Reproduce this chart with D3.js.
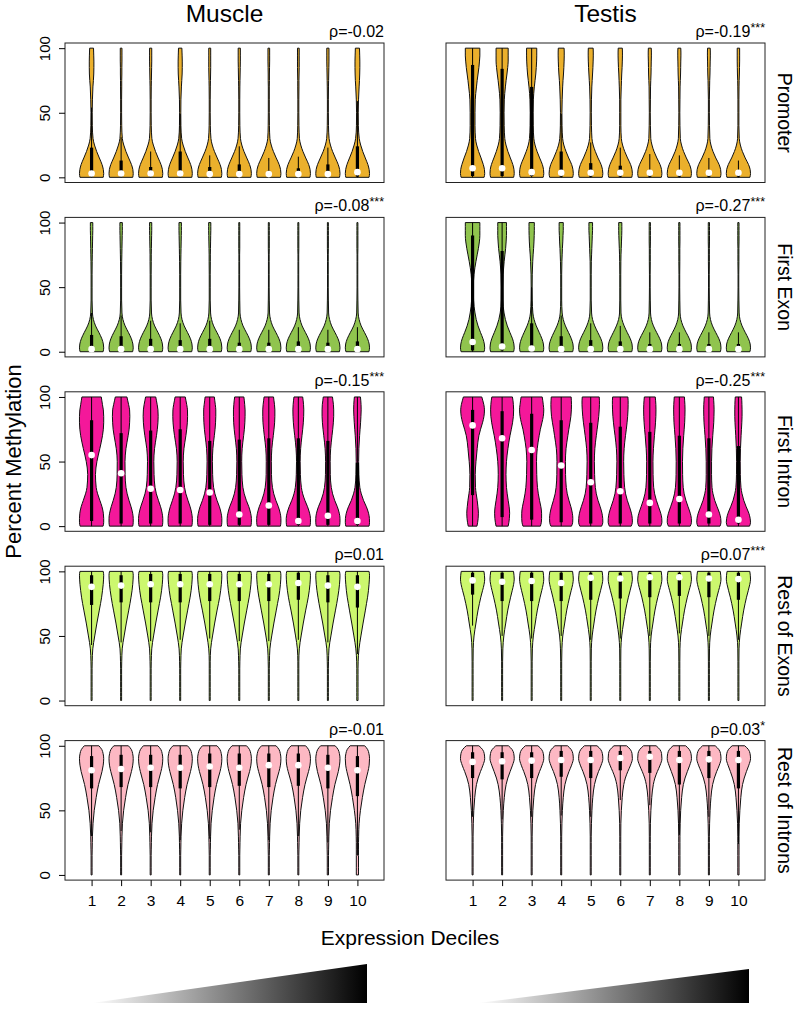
<!DOCTYPE html>
<html><head><meta charset="utf-8">
<script src="https://cdn.jsdelivr.net/npm/d3@7"></script>
<style>
body{margin:0;background:#fff}
svg{display:block}
text{font-family:"Liberation Sans",Arial,Helvetica,sans-serif;fill:#000}
</style>
</head><body>
<svg id="c" width="797" height="1009"></svg>
<script>
// ---------------- data ----------------
const deciles = [1,2,3,4,5,6,7,8,9,10];
const tissues = ["Muscle","Testis"];
const regions = ["Promoter","First Exon","First Intron","Rest of Exons","Rest of Introns"];
const regionColors = ["#EBB02C","#90C44E","#F4189A","#CCF76E","#FDB8C3"];
const rhoMuscle = ["-0.02","-0.08","-0.15","0.01","-0.01"];
const sigMuscle = ["","***","***","",""];
const rhoTestis = ["-0.19","-0.27","-0.25","0.07","0.03"];
const sigTestis = ["***","***","***","***","*"];
const yTicks = [0,50,100];
const xLabel = "Expression Deciles";
const yLabel = "Percent Methylation";
// methylation levels at which violin widths (relative density) are read
const levels = [0,3,6,10,15,20,25,30,40,50,60,70,75,80,85,90,94,97,100];

const violinMusclePromoter = [
[0.96,1,0.97,0.86,0.64,0.42,0.24,0.12,0.06,0.05,0.07,0.11,0.15,0.18,0.19,0.19,0.18,0.17,0.16],
[0.96,1,0.97,0.85,0.62,0.40,0.22,0.10,0.05,0.04,0.04,0.05,0.05,0.06,0.06,0.07,0.07,0.07,0.07],
[0.96,1,0.97,0.85,0.62,0.40,0.22,0.10,0.05,0.04,0.04,0.05,0.06,0.07,0.08,0.09,0.09,0.09,0.09],
[0.96,1,0.97,0.86,0.64,0.42,0.24,0.12,0.06,0.05,0.06,0.10,0.13,0.16,0.17,0.17,0.16,0.15,0.14],
[0.96,1,0.97,0.85,0.62,0.39,0.21,0.10,0.05,0.04,0.04,0.05,0.06,0.07,0.08,0.08,0.08,0.08,0.08],
[0.96,1,0.97,0.85,0.62,0.39,0.21,0.10,0.05,0.04,0.04,0.05,0.06,0.07,0.08,0.09,0.09,0.09,0.09],
[0.96,1,0.97,0.85,0.61,0.38,0.20,0.09,0.05,0.04,0.04,0.04,0.05,0.05,0.06,0.07,0.07,0.07,0.07],
[0.96,1,0.97,0.85,0.61,0.38,0.20,0.09,0.05,0.04,0.04,0.05,0.05,0.06,0.07,0.07,0.07,0.07,0.07],
[0.96,1,0.97,0.85,0.62,0.39,0.21,0.10,0.05,0.04,0.04,0.05,0.06,0.07,0.08,0.09,0.09,0.09,0.09],
[0.96,1,0.97,0.86,0.65,0.44,0.27,0.15,0.08,0.07,0.09,0.14,0.17,0.19,0.20,0.20,0.19,0.18,0.17]];
const violinMuscleFirstExon = [
[0.95,1,0.97,0.85,0.60,0.33,0.15,0.07,0.04,0.04,0.04,0.05,0.06,0.07,0.08,0.09,0.10,0.10,0.10],
[0.95,1,0.97,0.85,0.60,0.33,0.15,0.07,0.04,0.04,0.04,0.05,0.06,0.07,0.08,0.09,0.10,0.10,0.10],
[0.95,1,0.97,0.85,0.60,0.33,0.15,0.07,0.04,0.04,0.04,0.05,0.05,0.06,0.07,0.08,0.09,0.09,0.09],
[0.95,1,0.97,0.85,0.60,0.33,0.15,0.07,0.04,0.04,0.04,0.05,0.06,0.07,0.08,0.09,0.10,0.10,0.10],
[0.95,1,0.97,0.85,0.59,0.32,0.15,0.07,0.04,0.04,0.04,0.05,0.05,0.06,0.07,0.08,0.09,0.09,0.09],
[0.95,1,0.97,0.84,0.58,0.31,0.14,0.06,0.04,0.03,0.03,0.03,0.03,0.04,0.04,0.04,0.04,0.04,0.04],
[0.95,1,0.97,0.84,0.58,0.31,0.14,0.06,0.04,0.03,0.03,0.03,0.03,0.04,0.04,0.04,0.04,0.04,0.04],
[0.95,1,0.97,0.84,0.58,0.31,0.14,0.06,0.04,0.03,0.03,0.03,0.03,0.04,0.04,0.04,0.04,0.04,0.04],
[0.95,1,0.97,0.84,0.58,0.31,0.14,0.06,0.04,0.03,0.03,0.03,0.03,0.04,0.04,0.04,0.04,0.04,0.04],
[0.95,1,0.97,0.84,0.58,0.31,0.14,0.06,0.04,0.03,0.03,0.03,0.03,0.04,0.04,0.04,0.04,0.04,0.04]];
const violinMuscleFirstIntron = [
[0.95,1,1,0.97,0.86,0.68,0.50,0.38,0.32,0.44,0.68,0.90,0.97,1.00,1.00,0.97,0.90,0.85,0.80],
[0.96,1,1,0.95,0.82,0.65,0.50,0.40,0.33,0.32,0.40,0.58,0.66,0.70,0.72,0.70,0.62,0.55,0.48],
[0.96,1,1,0.95,0.82,0.64,0.47,0.36,0.28,0.26,0.32,0.48,0.55,0.60,0.62,0.60,0.54,0.48,0.42],
[0.96,1,1,0.95,0.82,0.64,0.47,0.36,0.27,0.25,0.31,0.47,0.54,0.59,0.61,0.60,0.54,0.48,0.42],
[0.96,1,1,0.94,0.80,0.60,0.43,0.32,0.24,0.22,0.26,0.38,0.44,0.48,0.50,0.50,0.46,0.42,0.38],
[0.96,1,1,0.94,0.79,0.58,0.41,0.30,0.22,0.20,0.24,0.36,0.42,0.46,0.48,0.48,0.45,0.42,0.38],
[0.96,1,1,0.94,0.79,0.58,0.41,0.30,0.22,0.21,0.25,0.37,0.43,0.48,0.50,0.50,0.47,0.43,0.39],
[0.96,1,1,0.93,0.76,0.54,0.36,0.25,0.17,0.15,0.19,0.30,0.36,0.41,0.44,0.45,0.43,0.40,0.36],
[0.96,1,1,0.94,0.78,0.56,0.39,0.28,0.20,0.19,0.23,0.34,0.40,0.45,0.48,0.48,0.46,0.42,0.38],
[0.96,1,0.99,0.92,0.74,0.50,0.32,0.20,0.12,0.10,0.12,0.18,0.22,0.26,0.29,0.31,0.30,0.28,0.25]];
const violinMuscleRestExons = [
[0.04,0.04,0.04,0.04,0.04,0.04,0.04,0.05,0.10,0.26,0.44,0.64,0.74,0.83,0.90,0.96,0.99,1,0.96],
[0.04,0.04,0.04,0.04,0.04,0.04,0.04,0.05,0.09,0.25,0.43,0.63,0.73,0.82,0.90,0.96,0.99,1,0.96],
[0.04,0.04,0.04,0.04,0.04,0.04,0.04,0.05,0.09,0.24,0.42,0.62,0.72,0.82,0.90,0.96,0.99,1,0.96],
[0.04,0.04,0.04,0.04,0.04,0.04,0.04,0.05,0.09,0.24,0.42,0.62,0.72,0.82,0.90,0.96,0.99,1,0.96],
[0.04,0.04,0.04,0.04,0.04,0.04,0.04,0.04,0.08,0.23,0.41,0.61,0.72,0.82,0.90,0.96,0.99,1,0.96],
[0.04,0.04,0.04,0.04,0.04,0.04,0.04,0.05,0.09,0.24,0.42,0.62,0.72,0.82,0.90,0.96,0.99,1,0.96],
[0.04,0.04,0.04,0.04,0.04,0.04,0.04,0.05,0.09,0.24,0.42,0.62,0.72,0.82,0.90,0.96,0.99,1,0.96],
[0.04,0.04,0.04,0.04,0.04,0.04,0.04,0.04,0.08,0.23,0.41,0.61,0.72,0.82,0.90,0.96,0.99,1,0.96],
[0.04,0.04,0.04,0.04,0.04,0.04,0.04,0.05,0.09,0.25,0.43,0.63,0.73,0.82,0.90,0.96,0.99,1,0.96],
[0.05,0.05,0.05,0.05,0.05,0.05,0.05,0.06,0.13,0.29,0.47,0.66,0.75,0.84,0.91,0.96,0.99,1,0.96]];
const violinMuscleRestIntrons = [
[0.04,0.04,0.04,0.04,0.04,0.05,0.06,0.07,0.12,0.22,0.38,0.58,0.72,0.86,0.96,1,0.95,0.85,0.60],
[0.04,0.04,0.04,0.04,0.04,0.05,0.06,0.07,0.11,0.21,0.37,0.57,0.71,0.85,0.96,1,0.95,0.85,0.60],
[0.04,0.04,0.04,0.04,0.04,0.05,0.06,0.07,0.11,0.21,0.37,0.57,0.71,0.85,0.96,1,0.95,0.85,0.60],
[0.04,0.04,0.04,0.04,0.04,0.05,0.06,0.07,0.12,0.22,0.37,0.57,0.71,0.85,0.96,1,0.95,0.85,0.60],
[0.04,0.04,0.04,0.04,0.04,0.05,0.06,0.07,0.11,0.21,0.36,0.56,0.70,0.85,0.96,1,0.95,0.85,0.60],
[0.04,0.04,0.04,0.04,0.04,0.05,0.06,0.07,0.11,0.21,0.36,0.56,0.70,0.85,0.96,1,0.95,0.85,0.60],
[0.04,0.04,0.04,0.04,0.04,0.05,0.06,0.07,0.11,0.20,0.35,0.55,0.69,0.84,0.96,1,0.95,0.85,0.60],
[0.04,0.04,0.04,0.04,0.04,0.05,0.06,0.07,0.11,0.20,0.35,0.55,0.69,0.84,0.96,1,0.95,0.85,0.60],
[0.05,0.05,0.05,0.05,0.05,0.06,0.07,0.08,0.12,0.22,0.38,0.58,0.72,0.86,0.96,1,0.95,0.85,0.60],
[0.09,0.09,0.09,0.09,0.09,0.09,0.09,0.10,0.14,0.25,0.41,0.61,0.74,0.87,0.97,1,0.95,0.85,0.60]];

const violinTestisPromoter = [
[0.95,1,0.98,0.88,0.70,0.50,0.34,0.24,0.20,0.20,0.22,0.32,0.38,0.45,0.52,0.57,0.60,0.60,0.60],
[0.95,1,0.98,0.88,0.68,0.48,0.32,0.22,0.17,0.16,0.18,0.27,0.33,0.40,0.46,0.50,0.50,0.50,0.50],
[0.95,1,0.98,0.88,0.66,0.45,0.28,0.18,0.13,0.12,0.14,0.22,0.28,0.34,0.38,0.41,0.42,0.42,0.42],
[0.95,1,0.97,0.86,0.62,0.40,0.22,0.12,0.07,0.06,0.08,0.12,0.15,0.19,0.22,0.24,0.25,0.25,0.24],
[0.95,1,0.97,0.85,0.60,0.38,0.20,0.10,0.06,0.05,0.06,0.09,0.12,0.15,0.18,0.20,0.21,0.21,0.20],
[0.95,1,0.97,0.85,0.60,0.37,0.19,0.09,0.05,0.05,0.05,0.08,0.10,0.12,0.15,0.17,0.18,0.18,0.17],
[0.95,1,0.97,0.84,0.58,0.35,0.18,0.08,0.05,0.04,0.05,0.06,0.08,0.10,0.11,0.12,0.13,0.13,0.12],
[0.95,1,0.97,0.84,0.58,0.35,0.18,0.08,0.05,0.04,0.05,0.06,0.08,0.10,0.11,0.12,0.13,0.13,0.12],
[0.95,1,0.97,0.84,0.57,0.34,0.17,0.08,0.05,0.04,0.04,0.06,0.07,0.09,0.10,0.11,0.12,0.12,0.11],
[0.95,1,0.97,0.83,0.56,0.33,0.16,0.07,0.04,0.04,0.04,0.05,0.06,0.08,0.09,0.10,0.10,0.10,0.10]];
const violinTestisFirstExon = [
[0.95,1,0.97,0.86,0.65,0.45,0.30,0.20,0.08,0.06,0.12,0.28,0.38,0.48,0.56,0.60,0.60,0.60,0.60],
[0.95,1,0.97,0.86,0.64,0.43,0.27,0.16,0.06,0.05,0.08,0.17,0.23,0.29,0.33,0.36,0.36,0.36,0.36],
[0.95,1,0.97,0.85,0.62,0.38,0.20,0.10,0.05,0.04,0.05,0.09,0.12,0.16,0.19,0.21,0.22,0.22,0.22],
[0.95,1,0.97,0.84,0.60,0.35,0.17,0.08,0.04,0.04,0.04,0.06,0.08,0.10,0.13,0.15,0.17,0.17,0.17],
[0.95,1,0.97,0.84,0.58,0.33,0.15,0.07,0.04,0.04,0.04,0.05,0.07,0.09,0.11,0.13,0.15,0.15,0.15],
[0.95,1,0.97,0.83,0.57,0.32,0.14,0.06,0.04,0.04,0.04,0.05,0.06,0.08,0.10,0.12,0.13,0.13,0.13],
[0.95,1,0.97,0.83,0.56,0.30,0.13,0.06,0.04,0.03,0.03,0.04,0.04,0.04,0.05,0.05,0.05,0.05,0.05],
[0.95,1,0.97,0.83,0.56,0.30,0.13,0.06,0.04,0.03,0.03,0.04,0.04,0.04,0.05,0.05,0.05,0.05,0.05],
[0.95,1,0.97,0.83,0.56,0.30,0.13,0.06,0.04,0.03,0.03,0.04,0.04,0.04,0.05,0.05,0.05,0.05,0.05],
[0.95,1,0.97,0.83,0.56,0.30,0.13,0.06,0.04,0.03,0.03,0.04,0.04,0.04,0.05,0.05,0.05,0.05,0.05]];
const violinTestisFirstIntron = [
[0.36,0.42,0.46,0.48,0.44,0.38,0.30,0.24,0.22,0.28,0.38,0.52,0.66,0.82,0.94,0.98,0.93,0.85,0.76],
[0.50,0.56,0.60,0.62,0.58,0.50,0.42,0.36,0.32,0.36,0.48,0.65,0.76,0.86,0.93,0.95,0.93,0.90,0.85],
[0.72,0.80,0.82,0.82,0.76,0.65,0.55,0.48,0.42,0.40,0.46,0.62,0.72,0.85,0.96,1.00,0.96,0.92,0.87],
[0.85,0.95,0.96,0.92,0.80,0.64,0.50,0.42,0.36,0.35,0.40,0.55,0.63,0.72,0.80,0.84,0.85,0.84,0.82],
[0.90,1.00,0.99,0.93,0.78,0.60,0.46,0.38,0.32,0.30,0.34,0.46,0.53,0.60,0.66,0.70,0.72,0.72,0.70],
[0.90,1.00,0.99,0.92,0.76,0.58,0.44,0.36,0.30,0.28,0.32,0.43,0.50,0.56,0.61,0.64,0.65,0.65,0.63],
[0.90,1.00,0.99,0.90,0.72,0.54,0.40,0.32,0.27,0.26,0.30,0.38,0.43,0.47,0.50,0.51,0.50,0.48,0.45],
[0.90,1.00,0.99,0.90,0.72,0.54,0.40,0.32,0.27,0.26,0.29,0.36,0.40,0.44,0.46,0.47,0.46,0.44,0.42],
[0.92,1.00,0.98,0.88,0.68,0.48,0.34,0.26,0.22,0.22,0.25,0.32,0.36,0.40,0.42,0.43,0.42,0.40,0.38],
[0.92,1.00,0.97,0.86,0.64,0.44,0.30,0.21,0.16,0.15,0.17,0.22,0.25,0.28,0.30,0.30,0.29,0.28,0.26]];
const violinTestisRestExons = [
[0.04,0.04,0.04,0.04,0.04,0.04,0.04,0.04,0.05,0.12,0.28,0.45,0.56,0.68,0.82,0.95,1,0.98,0.94],
[0.04,0.04,0.04,0.04,0.04,0.04,0.04,0.04,0.06,0.14,0.30,0.47,0.58,0.70,0.83,0.95,1,0.98,0.94],
[0.04,0.04,0.04,0.04,0.04,0.04,0.04,0.04,0.06,0.14,0.30,0.47,0.58,0.70,0.83,0.95,1,0.98,0.94],
[0.04,0.04,0.04,0.04,0.04,0.04,0.04,0.04,0.06,0.13,0.29,0.46,0.57,0.69,0.82,0.95,1,0.98,0.94],
[0.04,0.04,0.04,0.04,0.04,0.04,0.04,0.04,0.05,0.12,0.27,0.44,0.55,0.67,0.81,0.94,1,0.98,0.94],
[0.04,0.04,0.04,0.04,0.04,0.04,0.04,0.04,0.05,0.12,0.27,0.44,0.55,0.67,0.81,0.94,1,0.98,0.94],
[0.04,0.04,0.04,0.04,0.04,0.04,0.04,0.04,0.05,0.11,0.26,0.43,0.54,0.66,0.80,0.94,1,0.98,0.94],
[0.04,0.04,0.04,0.04,0.04,0.04,0.04,0.04,0.05,0.11,0.26,0.43,0.54,0.66,0.80,0.94,1,0.98,0.94],
[0.04,0.04,0.04,0.04,0.04,0.04,0.04,0.04,0.05,0.11,0.26,0.43,0.54,0.66,0.80,0.94,1,0.98,0.94],
[0.04,0.04,0.04,0.04,0.04,0.04,0.04,0.04,0.05,0.12,0.27,0.44,0.55,0.67,0.81,0.94,1,0.98,0.94]];
const violinTestisRestIntrons = [
[0.04,0.04,0.04,0.04,0.04,0.04,0.04,0.04,0.06,0.10,0.18,0.32,0.46,0.65,0.86,1,0.96,0.83,0.52],
[0.04,0.04,0.04,0.04,0.04,0.04,0.04,0.04,0.06,0.10,0.18,0.33,0.47,0.66,0.86,1,0.96,0.83,0.52],
[0.04,0.04,0.04,0.04,0.04,0.04,0.04,0.04,0.06,0.10,0.18,0.32,0.46,0.65,0.86,1,0.96,0.83,0.52],
[0.04,0.04,0.04,0.04,0.04,0.04,0.04,0.04,0.06,0.10,0.17,0.31,0.45,0.64,0.86,1,0.96,0.83,0.52],
[0.04,0.04,0.04,0.04,0.04,0.04,0.04,0.04,0.06,0.10,0.17,0.31,0.45,0.64,0.86,1,0.96,0.83,0.52],
[0.04,0.04,0.04,0.04,0.04,0.04,0.04,0.04,0.05,0.09,0.16,0.29,0.42,0.62,0.85,1,0.97,0.84,0.52],
[0.04,0.04,0.04,0.04,0.04,0.04,0.04,0.04,0.05,0.09,0.16,0.29,0.42,0.62,0.85,1,0.97,0.84,0.52],
[0.05,0.05,0.05,0.05,0.05,0.05,0.05,0.05,0.07,0.11,0.19,0.33,0.47,0.66,0.86,1,0.96,0.83,0.52],
[0.04,0.04,0.04,0.04,0.04,0.04,0.04,0.04,0.06,0.10,0.17,0.31,0.45,0.64,0.86,1,0.96,0.83,0.52],
[0.05,0.05,0.05,0.05,0.05,0.05,0.05,0.05,0.07,0.12,0.20,0.34,0.48,0.66,0.86,1,0.96,0.83,0.52]];

// box-plot statistics, rows = regions, columns = deciles
const medMuscle = [
[3,3,3,3,2.5,2.5,2.5,2.5,2.5,4],
[2,2,2,2,2,2,2,2,2,2],
[55,41,29,28,26,9,16,4,8,4],
[88,89,90,90,90,90,90,91,89,88],
[81,82,83,83,84,83,85,85,83,81]];
const q1Muscle = [
[0.5,0.5,0.5,0.5,0.5,0.5,0.5,0.5,0.5,0.5],
[0.5,0.5,0.5,0.5,0.5,0.5,0.5,0.5,0.5,0.5],
[4,2,2,2,1,1,1,1,1,1],
[74,76,76,76,77,77,77,78,76,72],
[67,68,68,67,68,69,68,69,67,61]];
const q3Muscle = [
[23,13,8,20,8,10,5,7,10,24],
[13,12,10,9,10,7,7,8,7,8],
[82,72,74,75,66,67,68,68,66,49],
[97,97,98,98,98,98,98,99,97,97],
[92,93,93,93,94,94,94,94,93,92]];
const loMuscle = [
[0,0,0,0,0,0,0,0,0,0],
[0,0,0,0,0,0,0,0,0,0],
[0,0,0,0,0,0,0,0,0,0],
[43,45,46,47,48,46,46,47,45,36],
[30,34,33,27,28,35,27,30,25,15]];
const hiMuscle = [
[54,31,20,49,17,24,15,16,23,59],
[30,28,24,22,24,17,17,19,17,19],
[100,100,100,100,100,100,100,100,100,100],
[100,100,100,100,100,100,100,100,100,100],
[100,100,100,100,100,100,100,100,100,100]];

const medTestis = [
[7,7,4,3.5,3.5,3.5,3.5,3.5,3.5,3.5],
[7.5,4,2.5,2,2,2,2,2,2,2],
[78,68,59,47,34,27,18,21,9,5],
[93,92,92.5,91,95,94.5,95.5,95.5,94.5,94],
[87.5,88,88.5,89,89,90.5,91.5,89,89.5,89]];
const q1Testis = [
[1,1,1,0.5,0.5,0.5,0.5,0.5,0.5,0.5],
[1,1,0.5,0.5,0.5,0.5,0.5,0.5,0.5,0.5],
[24,7,5,3,2,2,2,2,2,2],
[82,77,77,77,78,79,80,81,80,78],
[75,74,75,76,75,81,79,70,75,67]];
const q3Testis = [
[87,84,70,20,11,9,5,4,4,3],
[90,78,22,12,9,8,6,6,6,6],
[90,89,87,82,80,77,73,70,68,62],
[99,99,99,99,99,99,99,99,99,99],
[95,95,95,96,96,96,96,96,96,96]];
const loTestis = [
[0,0,0,0,0,0,0,0,0,0],
[0,0,0,0,0,0,0,0,0,0],
[0,0,0,0,0,0,0,0,0,0],
[58,50,48,50,47,48,50,52,50,47],
[45,43,45,46,45,58,54,31,45,24]];
const hiTestis = [
[100,100,100,49,27,23,18,17,15,13],
[100,100,50,28,22,20,15,15,15,15],
[100,100,100,100,100,100,100,100,100,100],
[100,100,100,100,100,100,100,100,100,100],
[100,100,100,100,100,100,100,100,100,100]];

// ---------------- drawing ----------------
const profilesMuscle = [violinMusclePromoter, violinMuscleFirstExon, violinMuscleFirstIntron, violinMuscleRestExons, violinMuscleRestIntrons];
const profilesTestis = [violinTestisPromoter, violinTestisFirstExon, violinTestisFirstIntron, violinTestisRestExons, violinTestisRestIntrons];
const tissueSets = [
  {name:tissues[0], prof:profilesMuscle, med:medMuscle, q1:q1Muscle, q3:q3Muscle, lo:loMuscle, hi:hiMuscle, rho:rhoMuscle, sig:sigMuscle},
  {name:tissues[1], prof:profilesTestis, med:medTestis, q1:q1Testis, q3:q3Testis, lo:loTestis, hi:hiTestis, rho:rhoTestis, sig:sigTestis}
];

const svg = d3.select("#c");
const defs = svg.append("defs");
const PANEL_H = 139.5, ROW_STEP = 174.4, TOP0 = 43;
const cols = [{x0:65, x1:384}, {x0:446, x1:765}];

tissueSets.forEach((t, ci) => {
  const c = cols[ci];
  const x = d3.scaleLinear().domain([0.1, 10.9]).range([c.x0, c.x1]);
  const hw = 0.41 * (x(2) - x(1));

  svg.append("text").attr("x", (c.x0 + c.x1) / 2).attr("y", 22)
    .attr("text-anchor", "middle").attr("font-size", 24.5).text(t.name);

  regions.forEach((reg, ri) => {
    const top = TOP0 + ri * ROW_STEP, bot = top + PANEL_H;
    const y = d3.scaleLinear().domain([-4, 104]).range([bot, top]);
    const g = svg.append("g");

    deciles.forEach((d, di) => {
      const cx = x(d);
      const pts = levels.map((v, k) => ({v: v, w: t.prof[ri][di][k]}));
      const area = d3.area().curve(d3.curveMonotoneY)
        .y(p => y(p.v)).x0(p => cx - p.w * hw).x1(p => cx + p.w * hw);
      g.append("path").attr("d", area(pts))
        .attr("fill", regionColors[ri]).attr("stroke", "#111").attr("stroke-width", 1);
      g.append("line").attr("x1", cx).attr("x2", cx)
        .attr("y1", y(t.lo[ri][di])).attr("y2", y(t.hi[ri][di]))
        .attr("stroke", "#000").attr("stroke-width", 1);
      g.append("rect").attr("x", cx - 1.6).attr("width", 3.2)
        .attr("y", y(t.q3[ri][di])).attr("height", y(t.q1[ri][di]) - y(t.q3[ri][di]))
        .attr("fill", "#000");
      g.append("circle").attr("cx", cx).attr("cy", y(t.med[ri][di])).attr("r", 3.3).attr("fill", "#fff");
    });

    // panel frame
    svg.append("rect").attr("x", c.x0).attr("y", top).attr("width", c.x1 - c.x0).attr("height", PANEL_H)
      .attr("fill", "none").attr("stroke", "#222").attr("stroke-width", 1);

    // correlation label
    const rt = svg.append("text").attr("x", c.x1).attr("y", top - 6)
      .attr("text-anchor", "end").attr("font-size", 16);
    rt.append("tspan").text("\u03C1=" + t.rho[ri]);
    if (t.sig[ri]) rt.append("tspan").attr("font-size", 12.5).attr("dy", -5).text(t.sig[ri]);

    // y axis on left column
    if (ci === 0) {
      const ax = svg.append("g").attr("transform", `translate(${c.x0},0)`)
        .call(d3.axisLeft(y).tickValues(yTicks).tickSize(6).tickSizeOuter(0));
      ax.select(".domain").remove();
      ax.selectAll(".tick line").attr("stroke", "#000");
      ax.selectAll(".tick text").attr("x", null).attr("dy", null)
        .attr("text-anchor", "middle").attr("font-size", 15)
        .attr("font-family", '"Liberation Sans",Arial,sans-serif')
        .attr("transform", "translate(-15,0) rotate(-90)");
    } else {
      svg.append("text").attr("transform", `translate(778,${(top + bot) / 2}) rotate(90)`)
        .attr("text-anchor", "middle").attr("font-size", 19.5).text(reg);
    }

    // x axis on bottom row
    if (ri === regions.length - 1) {
      const ax = svg.append("g").attr("transform", `translate(0,${bot})`)
        .call(d3.axisBottom(x).tickValues(deciles).tickSize(6).tickPadding(9).tickSizeOuter(0));
      ax.select(".domain").remove();
      ax.selectAll(".tick line").attr("stroke", "#000");
      ax.selectAll(".tick text").attr("font-size", 15.5)
        .attr("font-family", '"Liberation Sans",Arial,sans-serif');
    }
  });
});

// axis titles
svg.append("text").attr("transform", `translate(21,${(TOP0 + TOP0 + 4 * ROW_STEP + PANEL_H) / 2}) rotate(-90)`)
  .attr("text-anchor", "middle").attr("font-size", 22).text(yLabel);
svg.append("text").attr("x", 410).attr("y", 945).attr("text-anchor", "middle")
  .attr("font-size", 21).text(xLabel);

// expression gradient wedges
const grad = defs.append("linearGradient").attr("id", "wedge").attr("x1", "0%").attr("x2", "100%").attr("y1", "0%").attr("y2", "0%");
grad.append("stop").attr("offset", "0%").attr("stop-color", "#fff");
grad.append("stop").attr("offset", "100%").attr("stop-color", "#000");
const wedges = [
  {x0: 92, x1: 367, yTop: 964},
  {x0: 478, x1: 749, yTop: 969}
];
wedges.forEach(w => {
  svg.append("path")
    .attr("d", d3.line()([[w.x0, 1003], [w.x1, 1003], [w.x1, w.yTop]]) + "Z")
    .attr("fill", "url(#wedge)");
});
</script>
</body></html>
